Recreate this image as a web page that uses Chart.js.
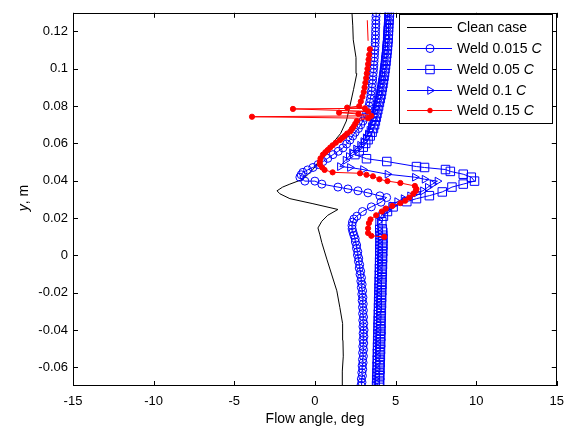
<!DOCTYPE html>
<html>
<head>
<meta charset="utf-8">
<script src="https://cdn.jsdelivr.net/npm/chart.js@4.4.0/dist/chart.umd.min.js"></script>
<style>
  html, body { margin: 0; padding: 0; background: #fff; }
  #wrap { width: 572px; height: 431px; }
</style>
</head>
<body>
<div id="wrap"><canvas id="chart" width="572" height="431"></canvas></div>
<script>
// tick values and labels
const xTicks = [-15, -10, -5, 0, 5, 10, 15];
const yTicks = [-0.06, -0.04, -0.02, 0, 0.02, 0.04, 0.06, 0.08, 0.1, 0.12];
const yTickLabels = ['-0.06', '-0.04', '-0.02', '0', '0.02', '0.04', '0.06', '0.08', '0.1', '0.12'];
const seriesNames = ['Clean case', 'Weld 0.015', 'Weld 0.05', 'Weld 0.1', 'Weld 0.15'];

// clean case (black line)
const cleanX = [1.74, 1.70, 1.76, 1.74, 1.72, 1.55, 1.36, 1.05, 0.74, 0.43, 0.31, 0.19, 0.43, 0.8, 1.43, -0.12, -1.55, -2.17, -2.35, -2.0, -1.55, -0.74, -0.12, 0.4, 1.0, 1.6, 1.95, 2.17, 2.4, 2.6, 2.55, 2.38, 2.35, 2.3];
const cleanY = [-0.0696, -0.062, -0.054, -0.0455, -0.0366, -0.028, -0.019, -0.0105, -0.002, 0.0068, 0.011, 0.0147, 0.0183, 0.0215, 0.0246, 0.0277, 0.0304, 0.033, 0.0346, 0.0366, 0.0382, 0.0408, 0.046, 0.0524, 0.059, 0.0654, 0.072, 0.080, 0.089, 0.0974, 0.106, 0.1155, 0.123, 0.13];

// y positions read along the lower dense bands
const bandY = [-0.0696, -0.0680, -0.0662, -0.0645, -0.0628, -0.0610, -0.0592, -0.0575, -0.0558, -0.0540,
  -0.0522, -0.0505, -0.0488, -0.0470, -0.0452, -0.0435, -0.0418, -0.0400, -0.0382, -0.0365,
  -0.0348, -0.0330, -0.0312, -0.0295, -0.0278, -0.0260, -0.0242, -0.0225, -0.0208, -0.0190,
  -0.0172, -0.0155, -0.0138, -0.0120, -0.0102, -0.0085, -0.0068, -0.0050, -0.0032, -0.0015,
  0.0002, 0.0020, 0.0038, 0.0055, 0.0072, 0.0090, 0.0108, 0.0125, 0.0142];

// weld 0.015 C (circles)
const weld015X = [2.86, 2.92, 2.88, 2.95, 2.91, 2.97, 2.93, 2.99, 2.95, 3.01,
  2.96, 3.02, 2.97, 3.03, 2.98, 3.04, 2.99, 3.05, 2.98, 3.03,
  2.97, 3.02, 2.96, 3.01, 2.95, 3.0, 2.93, 2.98, 2.91, 2.96,
  2.88, 2.93, 2.85, 2.89, 2.8, 2.84, 2.75, 2.78, 2.7, 2.72,
  2.64, 2.66, 2.58, 2.59, 2.51, 2.5, 2.42, 2.36, 2.31,
  2.3, 2.33, 2.42, 2.6, 2.95, 3.5, 4.1, 4.45,
  4.03, 3.29, 2.67, 2.05, 1.43, 0.43, 0.0, -0.62, -0.93,
  -0.85, -0.74, -0.45, -0.12, 0.2, 0.5, 0.8, 1.12, 1.45, 1.74, 1.97, 2.17, 2.35, 2.5,
  2.7, 2.85, 2.98, 3.1, 3.2, 3.3, 3.35, 3.4, 3.44, 3.48, 3.51, 3.54, 3.56, 3.58, 3.6, 3.62,
  3.64, 3.66, 3.67, 3.69, 3.7, 3.72, 3.73, 3.74, 3.75, 3.76, 3.76, 3.77, 3.78, 3.78, 3.79, 3.8];
const weld015Y = bandY.concat([
  0.0160, 0.0178, 0.0195, 0.021, 0.0235, 0.026, 0.0285, 0.031,
  0.0319, 0.0335, 0.0346, 0.0356, 0.0366, 0.0382, 0.0398, 0.0398, 0.0419,
  0.0432, 0.0445, 0.0458, 0.0471, 0.0487, 0.0503, 0.052, 0.054, 0.0558, 0.0576, 0.0597, 0.0618, 0.064, 0.066,
  0.068, 0.070, 0.072, 0.074, 0.076, 0.078, 0.080, 0.082, 0.084, 0.086, 0.088, 0.090, 0.092, 0.094, 0.096, 0.098,
  0.100, 0.102, 0.104, 0.106, 0.108, 0.110, 0.112, 0.114, 0.116, 0.118, 0.120, 0.122, 0.124, 0.126, 0.128, 0.130]);

// weld 0.05 C (squares)
const weld05X = [3.98, 4.02, 3.99, 4.03, 4.0, 4.04, 4.01, 4.05, 4.02, 4.06,
  4.03, 4.07, 4.04, 4.08, 4.05, 4.09, 4.06, 4.1, 4.07, 4.1,
  4.08, 4.11, 4.09, 4.12, 4.1, 4.13, 4.11, 4.14, 4.12, 4.15,
  4.13, 4.16, 4.14, 4.17, 4.15, 4.18, 4.16, 4.19, 4.17, 4.2,
  4.18, 4.21, 4.19, 4.22, 4.2, 4.22, 4.2, 4.21, 4.18,
  4.15, 4.25, 4.5, 4.85, 5.7, 6.3, 7.1, 7.9, 8.5, 9.2, 9.9, 9.7, 9.2, 8.4, 8.1, 6.8, 6.3, 4.46, 3.2, 2.48,
  2.75, 3.0, 3.15, 3.3, 3.43, 3.55, 3.63, 3.7, 3.75, 3.8, 3.85, 3.9, 3.95, 4.0, 4.05, 4.1, 4.14, 4.18, 4.22,
  4.25, 4.29, 4.32, 4.35, 4.38, 4.41, 4.43, 4.46, 4.48, 4.5, 4.52, 4.54, 4.55, 4.56, 4.57, 4.58, 4.6, 4.61, 4.62];
const weld05Y = bandY.concat([
  0.018, 0.021, 0.0235, 0.026, 0.0288, 0.0304, 0.032, 0.034, 0.0366, 0.0382, 0.0398, 0.0419, 0.0435, 0.045, 0.046, 0.0471, 0.0476, 0.0503, 0.0518, 0.054,
  0.056, 0.058, 0.060, 0.062, 0.064, 0.066, 0.068, 0.070, 0.072, 0.074, 0.076, 0.078, 0.080, 0.082, 0.084, 0.086, 0.088, 0.090, 0.092,
  0.094, 0.096, 0.098, 0.100, 0.102, 0.104, 0.106, 0.108, 0.110, 0.112, 0.114, 0.116, 0.118, 0.120, 0.122, 0.124, 0.126, 0.128, 0.130]);

// weld 0.1 C (right-pointing triangles)
const weld1X = [3.7, 3.74, 3.71, 3.75, 3.72, 3.76, 3.73, 3.77, 3.74, 3.78,
  3.75, 3.78, 3.76, 3.79, 3.77, 3.8, 3.78, 3.81, 3.79, 3.82,
  3.8, 3.83, 3.81, 3.84, 3.82, 3.85, 3.83, 3.86, 3.84, 3.87,
  3.85, 3.88, 3.86, 3.89, 3.87, 3.9, 3.88, 3.9, 3.89, 3.91,
  3.9, 3.92, 3.9, 3.93, 3.91, 3.93, 3.92, 3.92, 3.9,
  3.92, 4.1, 4.46, 4.8, 5.1, 5.5, 5.9, 6.3, 6.7, 7.0, 7.3, 7.6, 6.8, 6.2, 4.5, 2.98, 2.17, 1.55,
  1.9, 2.1, 2.3, 2.55, 2.8, 3.0, 3.15, 3.28, 3.38, 3.47, 3.55, 3.62, 3.68, 3.73, 3.78, 3.83, 3.88, 3.93, 3.98, 4.02,
  4.06, 4.1, 4.14, 4.17, 4.2, 4.23, 4.26, 4.28, 4.31, 4.33, 4.35, 4.37, 4.39, 4.4, 4.42, 4.43, 4.45, 4.46, 4.48, 4.49, 4.5];
const weld1Y = bandY.concat([
  0.018, 0.021, 0.024, 0.0265, 0.0288, 0.0304, 0.0319, 0.0335, 0.0346, 0.0365, 0.0382, 0.0398, 0.0408, 0.0419, 0.0435, 0.046, 0.0471, 0.0476,
  0.051, 0.053, 0.055, 0.057, 0.059, 0.061, 0.063, 0.065, 0.067, 0.069, 0.071, 0.073, 0.075, 0.077, 0.079, 0.081, 0.083, 0.085, 0.087, 0.089,
  0.091, 0.093, 0.095, 0.097, 0.099, 0.101, 0.103, 0.105, 0.107, 0.109, 0.111, 0.113, 0.115, 0.117, 0.119, 0.121, 0.123, 0.125, 0.127, 0.129, 0.130]);

// weld 0.15 C (red dots), null = break in the line
const weld15X = [4.3, 3.5, 3.3, 3.3, 3.35, 3.45, 3.8, 4.15, 4.4, 4.8, 5.3, 5.6, 5.85, 6.1, 6.25, 6.3, 6.2, 5.3, 4.5, 4.0,
  3.6, 3.2, 2.8, 1.1, 0.6, 0.45, 0.31, 0.31, 0.35, 0.5, 0.65, 0.8, 0.95, 1.1, 1.3, 1.55, 1.7, 1.85, 2.0, 2.2,
  2.3, 2.4, 2.5, 2.6, 3.3, -3.9, 3.5, 2.7, 1.5, 3.3, -1.36, 3.1, 2.0, 2.75, 2.85, 2.95, 3.03, 3.08, 3.13, 3.18,
  3.22, 3.26, 3.3, 3.33, 3.37, 3.41, null, 3.3, 3.25];
const weld15Y = [0.0099, 0.0105, 0.0120, 0.0145, 0.0173, 0.0193, 0.0215, 0.0235, 0.0251, 0.0265, 0.028, 0.0293, 0.031, 0.033, 0.0345, 0.0356, 0.0372, 0.0388, 0.0398, 0.0408,
  0.0424, 0.0432, 0.044, 0.0445, 0.0458, 0.0471, 0.0487, 0.0503, 0.052, 0.054, 0.0553, 0.0565, 0.0578, 0.059, 0.0604, 0.0618, 0.063, 0.064, 0.0653, 0.0665,
  0.0678, 0.069, 0.0705, 0.072, 0.0735, 0.0743, 0.0748, 0.0758, 0.0765, 0.0772, 0.0785, 0.0788, 0.0792, 0.080, 0.0825, 0.085, 0.0875, 0.090, 0.0925, 0.095,
  0.0975, 0.100, 0.1025, 0.105, 0.1075, 0.1105, null, 0.115, 0.126];

const FONT = '"Liberation Sans", Arial, Helvetica, sans-serif';

function toPoints(xs, ys) {
    return xs.map((x, i) => ({ x: x, y: ys[i] }));
}

const clear = 'rgba(0,0,0,0)';
const datasets = [
    { label: seriesNames[4], data: toPoints(weld15X, weld15Y), borderColor: '#ff0000', backgroundColor: '#ff0000',
      pointStyle: 'circle', legendRadius: 2.3, pointBorderWidth: 1, order: 1,
      // the short top piece is a bare line in the original
      pointRadius: c => (c.raw && c.raw.y > 0.112) ? 0 : 2.6 },
    { label: seriesNames[3], data: toPoints(weld1X, weld1Y), borderColor: '#0000ff', backgroundColor: clear,
      pointStyle: 'triangle', pointRotation: 90, pointRadius: 4.5, legendRadius: 4.5, pointBorderWidth: 1, order: 2 },
    { label: seriesNames[2], data: toPoints(weld05X, weld05Y), borderColor: '#0000ff', backgroundColor: clear,
      pointStyle: 'rect', pointRadius: 6, legendRadius: 6, pointBorderWidth: 1, order: 3 },
    { label: seriesNames[1], data: toPoints(weld015X, weld015Y), borderColor: '#0000ff', backgroundColor: clear,
      pointStyle: 'circle', pointRadius: 4, legendRadius: 4, pointBorderWidth: 1, order: 4 },
    { label: seriesNames[0], data: toPoints(cleanX, cleanY), borderColor: '#000000', backgroundColor: clear,
      pointRadius: 0, legendRadius: 0, order: 5 }
];
datasets.forEach(d => { d.showLine = true; d.borderWidth = 1; d.tension = 0; d.spanGaps = false; });

function drawRich(ctx, parts, x, y) {
    // parts: [[text, italic]]
    let cx = x;
    parts.forEach(p => {
        ctx.font = (p[1] ? 'italic ' : '') + '14px ' + FONT;
        ctx.fillText(p[0], cx, y);
        cx += ctx.measureText(p[0]).width;
    });
}

function richWidth(ctx, parts) {
    let w = 0;
    parts.forEach(p => {
        ctx.font = (p[1] ? 'italic ' : '') + '14px ' + FONT;
        w += ctx.measureText(p[0]).width;
    });
    return w;
}

const matlabFrame = {
    id: 'matlabFrame',
    afterDatasetsDraw(chart) {
        const { ctx, chartArea: a, scales } = chart;
        ctx.save();
        ctx.strokeStyle = '#000';
        ctx.lineWidth = 1;

        // inward ticks on all four sides
        ctx.beginPath();
        xTicks.forEach(v => {
            const px = Math.round(scales.x.getPixelForValue(v)) + 0.5;
            ctx.moveTo(px, a.bottom); ctx.lineTo(px, a.bottom - 5);
            ctx.moveTo(px, a.top); ctx.lineTo(px, a.top + 5);
        });
        yTicks.forEach(v => {
            const py = Math.round(scales.y.getPixelForValue(v)) + 0.5;
            ctx.moveTo(a.left, py); ctx.lineTo(a.left + 5, py);
            ctx.moveTo(a.right, py); ctx.lineTo(a.right - 5, py);
        });
        ctx.stroke();
        ctx.strokeRect(Math.round(a.left) + 0.5, Math.round(a.top) + 0.5,
            Math.round(a.right - a.left) - 1, Math.round(a.bottom - a.top) - 1);

        // legend box
        const bx = 399.5, by = 14.5, bw = 153, bh = 109;
        ctx.fillStyle = '#fff';
        ctx.fillRect(bx, by, bw, bh);
        ctx.strokeRect(bx, by, bw, bh);

        const rows = [27, 48, 69, 90, 110];
        const order = [4, 3, 2, 1, 0]; // dataset index for each legend row
        rows.forEach((ry, i) => {
            const ds = chart.data.datasets[order[i]];
            ctx.strokeStyle = ds.borderColor;
            ctx.beginPath();
            ctx.moveTo(407, ry + 0.5); ctx.lineTo(452, ry + 0.5);
            ctx.stroke();
            if (ds.legendRadius > 0) {
                ctx.fillStyle = ds.backgroundColor;
                Chart.helpers.drawPoint(ctx, {
                    pointStyle: ds.pointStyle, radius: ds.legendRadius,
                    rotation: ds.pointRotation || 0, borderWidth: 1
                }, 430, ry + 0.5);
            }
            ctx.fillStyle = '#000';
            ctx.textBaseline = 'middle';
            ctx.textAlign = 'left';
            const parts = i === 0 ? [[seriesNames[0], false]] : [[seriesNames[i] + ' ', false], ['C', true]];
            drawRich(ctx, parts, 457, ry + 1);
        });

        // axis titles
        ctx.fillStyle = '#000';
        ctx.textBaseline = 'middle';
        const xParts = [['Flow angle, deg', false]];
        drawRich(ctx, xParts, 315 - richWidth(ctx, xParts) / 2, 419);

        const yParts = [['y', true], [', m', false]];
        ctx.translate(24, 198);
        ctx.rotate(-Math.PI / 2);
        drawRich(ctx, yParts, -richWidth(ctx, yParts) / 2, 0);
        ctx.restore();
    }
};

const tickFont = { family: FONT, size: 13 };

new Chart(document.getElementById('chart'), {
    type: 'scatter',
    data: { datasets: datasets },
    options: {
        responsive: false,
        animation: false,
        events: [],
        layout: { padding: { left: 0, right: 15, top: 5, bottom: 0 } },
        plugins: { legend: { display: false }, tooltip: { enabled: false } },
        scales: {
            x: {
                type: 'linear', min: -15, max: 15,
                grid: { display: false, drawTicks: false },
                border: { display: false },
                afterBuildTicks: s => { s.ticks = xTicks.map(v => ({ value: v })); },
                afterFit: s => { s.height = 45; },
                ticks: { font: tickFont, color: '#000', padding: 8, autoSkip: false, maxRotation: 0,
                         callback: v => String(v) }
            },
            y: {
                type: 'linear', min: -0.07, max: 0.13,
                grid: { display: false, drawTicks: false },
                border: { display: false },
                afterBuildTicks: s => { s.ticks = yTicks.map(v => ({ value: v })); },
                afterFit: s => { s.width = 73; },
                ticks: { font: tickFont, color: '#000', padding: 5, autoSkip: false,
                         callback: (v, i) => yTickLabels[i] }
            }
        }
    },
    plugins: [matlabFrame]
});
</script>
</body>
</html>
